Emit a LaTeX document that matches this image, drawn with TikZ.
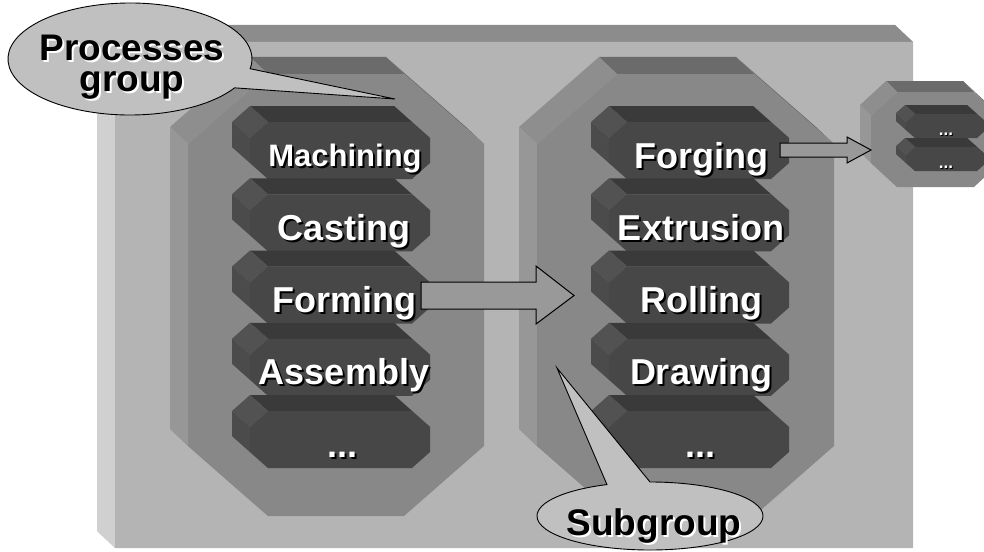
\documentclass[tikz,border=0pt]{standalone}
\usepackage{fontspec}
\setmainfont{Liberation Sans}

% face colours: top, upper-left chamfer, left side, front
\definecolor{slab-top}{HTML}{8C8C8C}
\definecolor{slab-ul}{HTML}{8C8C8C}
\definecolor{slab-left}{HTML}{D0D0D0}
\definecolor{slab-front}{HTML}{B4B4B4}
\definecolor{grp-top}{HTML}{6B6B6B}
\definecolor{grp-ul}{HTML}{8E8E8E}
\definecolor{grp-left}{HTML}{979797}
\definecolor{grp-front}{HTML}{888888}
\definecolor{box-top}{HTML}{3A3A3A}
\definecolor{box-ul}{HTML}{525252}
\definecolor{box-left}{HTML}{4B4B4B}
\definecolor{box-front}{HTML}{474747}
\definecolor{bubblefill}{HTML}{C0C0C0}
\definecolor{arrowfill}{HTML}{999999}

% Extruded chamfered rectangle seen from the upper left.
% #1,#2 = front top-left, #3,#4 = front bottom-right, #5,#6 = chamfer,
% #7,#8 = depth towards the upper left, #9 = colour set
\newcommand{\chamferprism}[9]{%
  \fill[#9-top] ({#1+#5},{#2}) -- ({#3-#5},{#2}) -- ({#3-#5-#7},{#2-#8}) -- ({#1+#5-#7},{#2-#8}) -- cycle;
  \fill[#9-top] ({#3-#5},{#2}) -- ({#3},{#2+#6}) -- ({#3-#7},{#2+#6-#8}) -- ({#3-#5-#7},{#2-#8}) -- cycle;
  \fill[#9-ul] ({#1},{#2+#6}) -- ({#1+#5},{#2}) -- ({#1+#5-#7},{#2-#8}) -- ({#1-#7},{#2+#6-#8}) -- cycle;
  \fill[#9-left] ({#1},{#2+#6}) -- ({#1},{#4-#6}) -- ({#1-#7},{#4-#6-#8}) -- ({#1-#7},{#2+#6-#8}) -- cycle;
  \fill[#9-left] ({#1},{#4-#6}) -- ({#1+#5},{#4}) -- ({#1+#5-#7},{#4-#8}) -- ({#1-#7},{#4-#6-#8}) -- cycle;
  \fill[#9-front] ({#1},{#2+#6}) -- ({#1+#5},{#2}) -- ({#3-#5},{#2}) -- ({#3},{#2+#6})
     -- ({#3},{#4-#6}) -- ({#3-#5},{#4}) -- ({#1+#5},{#4}) -- ({#1},{#4-#6}) -- cycle;
}

% white lettering with a dark drop shadow, and the reverse
\newcommand{\lighttext}[2][2pt]{\leavevmode\rlap{\kern#1\raisebox{-#1}{\textcolor{black}{#2}}}\textcolor{white}{#2}}
\newcommand{\darktext}[2][2pt]{\leavevmode\rlap{\kern#1\raisebox{-#1}{\textcolor{white}{#2}}}\textcolor{black}{#2}}

\tikzset{
  boxlabel/.style={anchor=base, inner sep=0pt, font=\bfseries\fontsize{36}{36}\selectfont},
  boxlabelsmall/.style={anchor=base, inner sep=0pt, font=\bfseries\fontsize{31}{31}\selectfont},
  tinylabel/.style={anchor=base, inner sep=0pt, font=\bfseries\fontsize{17}{17}\selectfont},
  bubbletext/.style={anchor=base, inner sep=0pt, font=\bfseries\fontsize{37}{37}\selectfont},
  bubble/.style={fill=bubblefill, draw=black, line width=0.9pt},
  blockarrow/.style={fill=arrowfill, draw=black, line width=1pt, line join=miter},
}

\begin{document}
\begin{tikzpicture}[x=1pt, y=-1pt]
\useasboundingbox (0,0) rectangle (984,551);
\clip (0,0) rectangle (984,551);

% base slab
\chamferprism{115}{42}{913}{548}{0}{0}{18}{17}{slab}

% the two groups
\chamferprism{188}{74}{484}{516}{80}{70}{18}{17}{grp}
\chamferprism{537}{74}{834}{516}{80}{70}{18}{17}{grp}

% process blocks, left column
\chamferprism{250}{122}{430}{179}{18}{16}{18}{16}{box}
\chamferprism{250}{194.25}{430}{251.25}{18}{16}{18}{16}{box}
\chamferprism{250}{266.5}{430}{323.5}{18}{16}{18}{16}{box}
\chamferprism{250}{338.75}{430}{395.75}{18}{16}{18}{16}{box}
\chamferprism{250}{411}{430}{468}{18}{16}{18}{16}{box}

% process blocks, right column
\chamferprism{609}{122}{789}{179}{18}{16}{18}{16}{box}
\chamferprism{609}{194.25}{789}{251.25}{18}{16}{18}{16}{box}
\chamferprism{609}{266.5}{789}{323.5}{18}{16}{18}{16}{box}
\chamferprism{609}{338.75}{789}{395.75}{18}{16}{18}{16}{box}
\chamferprism{609}{411}{789}{468}{18}{16}{18}{16}{box}

% labels
\node[boxlabelsmall] (machining) at (345,166) {\lighttext{Machining}};
\node[boxlabel] (casting) at (344,240) {\lighttext{Casting}};
\node[boxlabel] (forming) at (344,312.5) {\lighttext{Forming}};
\node[boxlabel] (assembly) at (344,384.75) {\lighttext{Assembly}};
\node[boxlabel] (moreleft) at (342,457) {\lighttext{...}};

\node[boxlabel] (forging) at (701,168) {\lighttext{Forging}};
\node[boxlabel] (extrusion) at (701,240) {\lighttext{Extrusion}};
\node[boxlabel] (rolling) at (701,312.5) {\lighttext{Rolling}};
\node[boxlabel] (drawing) at (701,384.75) {\lighttext{Drawing}};
\node[boxlabel] (moreright) at (700,457) {\lighttext{...}};

% Forming -> subgroup
\coordinate (forming-out) at (421,295.5);
\coordinate (subgroup-in) at (574,295.5);
\draw[blockarrow] (forming-out) ++(0,-13.5) -- ++(115,0) -- ++(0,-16) -- (subgroup-in)
   -- ++(-38,28.5) -- ++(0,-15) -- ++(-115,0) -- cycle;

% next level group
\chamferprism{871}{92}{1000}{187}{26}{24}{11}{11}{grp}
\chamferprism{906}{114}{986}{138}{9}{8}{10}{9}{box}
\chamferprism{906}{147}{986}{171}{9}{8}{10}{9}{box}
\node[tinylabel] (moretop) at (946,135) {\lighttext[1pt]{...}};
\node[tinylabel] (morebottom) at (946,168) {\lighttext[1pt]{...}};

% Forging -> next level
\coordinate (forging-out) at (780,150);
\coordinate (nextlevel-in) at (871,150);
\draw[blockarrow] (forging-out) ++(0,-7) -- ++(67,0) -- ++(0,-6) -- (nextlevel-in)
   -- ++(-24,13) -- ++(0,-6) -- ++(-67,0) -- cycle;

% callouts
\draw[bubble] (130,59) ++(31:122 and 56) arc[start angle=31, end angle=370, x radius=122, y radius=56]
   -- (395,99) -- cycle;
\node[bubbletext] (processes) at (132,60) {\darktext{Processes}};
\node[bubbletext] (group) at (132,91) {\darktext{group}};

\draw[bubble] (650,516) ++(270:113 and 34) arc[start angle=270, end angle=607.6, x radius=113, y radius=34]
   -- (557,368) -- cycle;
\node[bubbletext] (subgroup) at (654,535) {\darktext{Subgroup}};
\end{tikzpicture}
\end{document}
